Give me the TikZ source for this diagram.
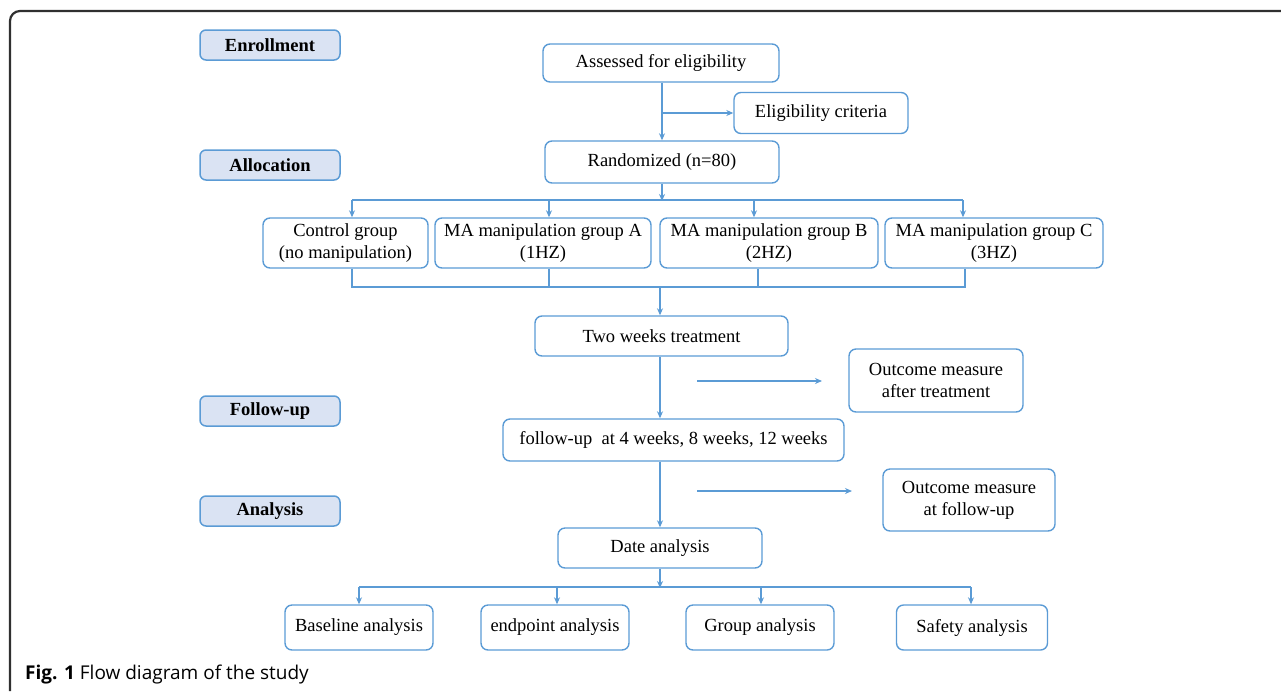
\documentclass[tikz,border=0pt]{standalone}
\usepackage{fontspec}
\setmainfont{Liberation Serif}
\newfontfamily\capfont{Open Sans}
\usetikzlibrary{arrows.meta}
\definecolor{bblue}{HTML}{5B9BD5}
\definecolor{sfill}{HTML}{DAE3F3}
\definecolor{framec}{HTML}{303030}
\begin{document}
\begin{tikzpicture}[x=1pt,y=-1pt,
  every node/.style={font=\fontsize{18.5}{22}\selectfont, inner sep=0pt, align=center},
  stagebox/.style={draw=bblue, fill=sfill, line width=1.5pt, rounded corners=6pt,
     minimum width=140pt, minimum height=30pt, font=\fontsize{18.5}{22}\selectfont\bfseries},
  flowbox/.style={draw=bblue, line width=1.4pt, rounded corners=7pt},
  conn/.style={draw=bblue, line width=1.4pt},
  arr/.style={conn, -{Stealth[length=7pt,width=6pt]}}
]
\useasboundingbox (0,0) rectangle (1281,691);
% frame
\draw[framec, line width=2.2pt, rounded corners=10pt] (10,691) -- (10,11) -- (1281,11);

% stage boxes
\node[stagebox] (enr) at (270,45) {Enrollment};
\node[stagebox] (alloc) at (270,165) {Allocation};
\node[stagebox] (fup) at (270,411) {Follow-up};
\node[stagebox] (ana) at (270,511) {Analysis};

% main flow
\node[flowbox, minimum width=236pt, minimum height=38pt] (assess) at (661,63) {Assessed for eligibility};
\node[flowbox, minimum width=174pt, minimum height=41pt] (elig) at (821,113) {Eligibility criteria};
\node[flowbox, minimum width=234pt, minimum height=42pt] (rand) at (662,162) {Randomized (n=80)};

\node[flowbox, minimum width=165pt, minimum height=50pt] (ctrl) at (345.5,243) {Control group\\(no manipulation)};
\node[flowbox, minimum width=216pt, minimum height=50pt] (ga) at (543,243) {MA manipulation group A\\(1HZ)};
\node[flowbox, minimum width=218pt, minimum height=50pt] (gb) at (769,243) {MA manipulation group B\\(2HZ)};
\node[flowbox, minimum width=218pt, minimum height=50pt] (gc) at (994,243) {MA manipulation group C\\(3HZ)};

\node[flowbox, minimum width=253pt, minimum height=40pt] (treat) at (661.5,336) {Two weeks treatment};
\node[flowbox, minimum width=174pt, minimum height=63pt] (out1) at (936,380.5) {Outcome measure\\after treatment};
\node[flowbox, minimum width=341pt, minimum height=42pt] (follow) at (673.5,440) {follow-up\ \ at 4 weeks, 8 weeks, 12 weeks};
\node[flowbox, minimum width=172pt, minimum height=62pt] (out2) at (969,500) {Outcome measure\\at follow-up};
\node[flowbox, minimum width=204pt, minimum height=40pt] (date) at (660,548) {Date analysis};

\node[flowbox, minimum width=148pt, minimum height=45pt] (base) at (359,627.5) {Baseline analysis};
\node[flowbox, minimum width=148pt, minimum height=45pt] (endp) at (555,627.5) {endpoint analysis};
\node[flowbox, minimum width=148pt, minimum height=45pt] (grp) at (760,627.5) {Group analysis};
\node[flowbox, minimum width=151pt, minimum height=45pt] (safe) at (972,627.5) {Safety analysis};

% caption
\node[anchor=base west, font=\capfont\fontsize{19}{23}\selectfont] (cap) at (25,679) {\textbf{Fig. 1} Flow diagram of the study};

% connectors: enrollment
\coordinate (ebr) at (662,113);
\draw[arr] (assess.south -| ebr) -- (rand.north -| ebr);
\draw[arr] (ebr) -- (elig.west);

% randomization split
\coordinate (tb) at (662,200);
\coordinate (tbl) at (352,200);
\coordinate (tbr) at (963,200);
\draw[arr] (rand.south -| tb) -- ([yshift=-1pt]tb);
\draw[conn] (tbl) -- (tbr);
\draw[arr] (tbl) -- (tbl |- ctrl.north);
\draw[arr] (549,200) coordinate (tba) -- (tba |- ga.north);
\draw[arr] (754,200) coordinate (tbb) -- (tbb |- gb.north);
\draw[arr] (tbr) -- (tbr |- gc.north);

% merge
\coordinate (mbl) at (352,287);
\coordinate (mbr) at (965,287);
\coordinate (mb) at (660,287);
\draw[conn] (mbl |- ctrl.south) -- (mbl) -- (mbr) -- (mbr |- gc.south);
\draw[conn] (ga.south -| 549,0) coordinate (mba) -- (mba |- mbl);
\draw[conn] (gb.south -| 758,0) coordinate (mbb) -- (mbb |- mbl);
\draw[arr] (mb) -- (mb |- treat.north);

% treatment -> follow-up
\coordinate (vx) at (660,0);
\draw[arr] (treat.south -| vx) -- (follow.north -| vx);
\coordinate (s1) at (697,381);
\draw[arr] (s1) -- (822,381) coordinate (s1e);
\draw[arr] (follow.south -| vx) -- (date.north -| vx);
\coordinate (s2) at (697,491);
\draw[arr] (s2) -- (852,491) coordinate (s2e);

% analysis split
\coordinate (bb) at (660,587);
\coordinate (bbl) at (359,587);
\coordinate (bbr) at (971,587);
\draw[arr] (date.south -| bb) -- ([yshift=-1pt]bb);
\draw[conn] (bbl) -- (bbr);
\draw[arr] (bbl) -- (bbl |- base.north);
\draw[arr] (557,587) coordinate (bbe) -- (bbe |- endp.north);
\draw[arr] (761,587) coordinate (bbg) -- (bbg |- grp.north);
\draw[arr] (bbr) -- (bbr |- safe.north);
\end{tikzpicture}
\end{document}
